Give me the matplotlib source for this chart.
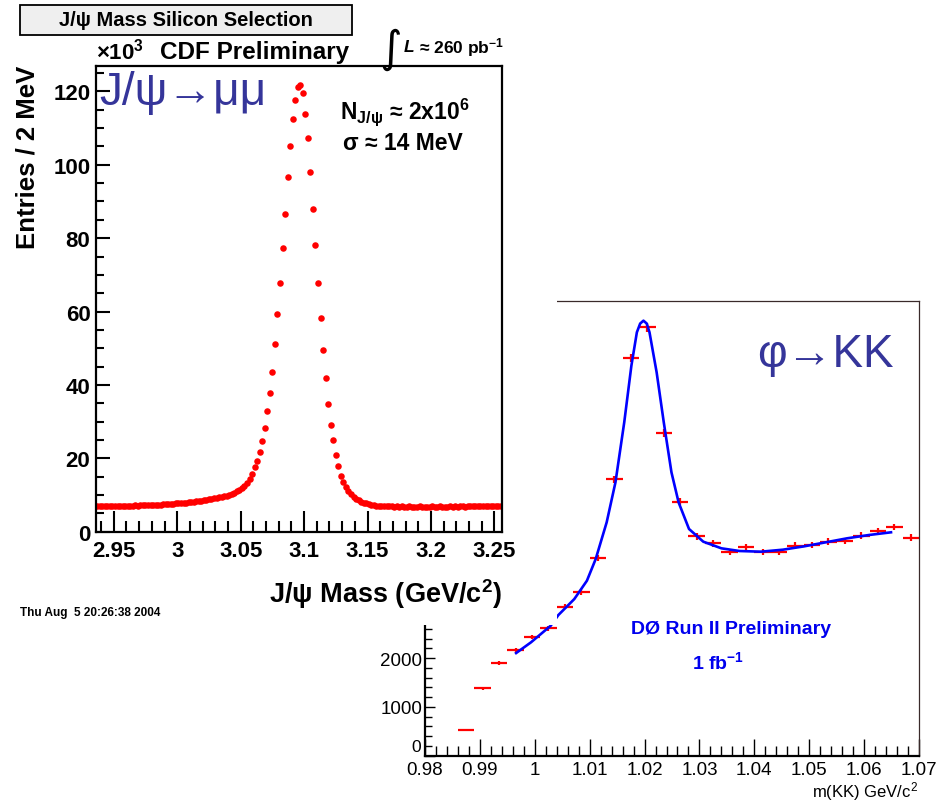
import matplotlib.pyplot as plt
import numpy as np
from matplotlib.patches import Rectangle
from matplotlib.ticker import MultipleLocator, FuncFormatter

plt.rcParams['font.family'] = ['Liberation Sans', 'DejaVu Sans']
plt.rcParams['mathtext.default'] = 'regular'

# J/psi -> mu mu (CDF), 2 MeV bins starting at 2.936 GeV, entries in thousands
jpsi_first_edge = 2.936
jpsi_bin_width = 0.002
jpsi_entries = [
    6.9, 6.95, 6.9, 7.0, 6.95, 7.0, 7.0, 6.95, 7.05, 7.0,
    7.05, 7.1, 7.05, 7.1, 7.1, 7.15, 7.1, 7.2, 7.2, 7.25,
    7.2, 7.3, 7.3, 7.35, 7.4, 7.4, 7.45, 7.5, 7.55, 7.6,
    7.65, 7.7, 7.75, 7.8, 7.9, 7.95, 8.0, 8.1, 8.15, 8.25,
    8.35, 8.45, 8.55, 8.65, 8.8, 8.9, 9.05, 9.2, 9.35, 9.45,
    9.6, 9.8, 10.0, 10.3, 10.6, 11.0, 11.4, 11.9, 12.5, 13.3,
    14.4, 15.8, 17.6, 19.4, 21.8, 24.7, 28.2, 32.9, 37.7, 43.4,
    51.1, 59.4, 67.9, 77.2, 86.7, 96.6, 105.2, 112.6, 117.6, 121.3,
    121.7, 119.6, 113.9, 107.2, 98.0, 87.9, 78.1, 67.7, 58.3, 49.4,
    41.8, 34.8, 29.2, 25.0, 20.9, 17.8, 15.3, 13.5, 12.2, 11.1,
    10.2, 9.5, 9.0, 8.55, 8.2, 7.9, 7.7, 7.5, 7.35, 7.2,
    7.1, 7.05, 7.0, 6.95, 6.95, 6.9, 6.9, 6.85, 6.9, 6.85,
    6.9, 6.85, 6.85, 6.9, 6.85, 6.8, 6.85, 6.9, 6.85, 6.85,
    6.8, 6.85, 6.9, 6.85, 6.85, 6.9, 6.85, 6.8, 6.85, 6.9,
    6.85, 6.9, 6.85, 6.9, 6.9, 6.85, 6.9, 6.95, 6.9, 6.9,
    6.95, 6.9, 6.95, 7.0, 6.95, 7.0, 6.95, 7.0, 7.05, 7.1,
]
jpsi_xticks = [2.95, 3.0, 3.05, 3.1, 3.15, 3.2, 3.25]

# phi -> KK (D0 Run II), 3 MeV bins starting at 0.986 GeV
d0_first_edge = 0.986
d0_bin_width = 0.003
d0_entries = [526, 1379, 1904, 2157, 2430, 2614, 3051, 3352, 4043, 5660,
              8145, 8773, 6615, 5202, 4493, 4350, 4165, 4268, 4165, 4178,
              4301, 4315, 4383, 4397, 4505, 4602, 4684, 4465]
d0_errors = [22, 37, 44, 46, 49, 51, 55, 58, 64, 75,
             90, 94, 81, 72, 67, 66, 65, 65, 65, 65,
             66, 66, 66, 66, 67, 68, 68, 67]

# fitted curve
fit_mass = [0.9966, 0.9993, 1.0029, 1.0043, 1.0072, 1.0095, 1.0111, 1.0131,
            1.0147, 1.0163, 1.0176, 1.0186, 1.0192, 1.0198, 1.0204, 1.0209,
            1.0222, 1.0235, 1.0249, 1.0262, 1.0281, 1.0307, 1.0340, 1.0373,
            1.0412, 1.0452, 1.0491, 1.0530, 1.0569, 1.0609, 1.0649]
fit_values = [2102, 2321, 2662, 2881, 3208, 3584, 4028, 4780,
              5599, 6828, 7987, 8671, 8850, 8909, 8850, 8671,
              7852, 6828, 5804, 5189, 4643, 4383, 4247, 4192,
              4178, 4219, 4288, 4370, 4452, 4520, 4575]

W, H = 942, 803
fig = plt.figure(figsize=(W / 100, H / 100), dpi=100)


def fx(px):
    return px / W


def fy(py):
    return 1 - py / H


narrow = ['DejaVu Sans Condensed', 'Liberation Sans Narrow', 'Liberation Sans']
slate = '#35359a'

# -------------------------------
# D0 phi -> KK panel (behind)
# -------------------------------
ax2 = fig.add_axes([fx(425), fy(756.7), 494 / W, (756.7 - 302) / H], zorder=0)
d0_centers = d0_first_edge + d0_bin_width * (np.arange(len(d0_entries)) + 0.5)
ax2.errorbar(d0_centers, d0_entries, xerr=d0_bin_width / 2, yerr=d0_errors,
             fmt='none', ecolor='red', elinewidth=1.6, capsize=0)
ax2.plot(fit_mass, fit_values, color='blue', lw=1.9)
ax2.set_xlim(0.98, 1.07)
ax2.set_ylim(0, 9312)
ax2.xaxis.set_major_locator(MultipleLocator(0.01))
ax2.xaxis.set_minor_locator(MultipleLocator(0.002))
ax2.yaxis.set_major_locator(MultipleLocator(1000))
ax2.yaxis.set_minor_locator(MultipleLocator(200))
ax2.xaxis.set_major_formatter(FuncFormatter(lambda v, p: '%g' % round(v, 3)))
# labels above 2000 sit under the CDF picture, "0" is placed by hand below
ax2.yaxis.set_major_formatter(FuncFormatter(lambda v, p: '%d' % v if 0 < v <= 2000 else ''))
ax2.tick_params(which='both', direction='in', top=False, right=False, width=1)
ax2.tick_params(axis='x', which='major', length=12, pad=3.5)
ax2.tick_params(axis='x', which='minor', length=7)
ax2.tick_params(axis='y', which='major', length=7, pad=2)
ax2.tick_params(axis='y', which='minor', length=5)
for lab in ax2.get_xticklabels() + ax2.get_yticklabels():
    lab.set_family(narrow)
    lab.set_fontsize(13.5)
for s in ['top', 'right']:
    ax2.spines[s].set_color('#3a2a2a')
    ax2.spines[s].set_linewidth(0.9)
for s in ['left', 'bottom']:
    ax2.spines[s].set_linewidth(1.6)
fig.text(fx(421), fy(748), '0', ha='right', va='center', family=narrow, fontsize=12.5)
fig.text(fx(918), fy(792), 'm(KK) GeV/c$^2$', ha='right', va='center',
         family=narrow, fontsize=12)
fig.text(fx(757), fy(355), 'φ→KK', ha='left', va='center', fontsize=33, color=slate)
fig.text(fx(731), fy(630), 'DØ Run II Preliminary', ha='center', va='center',
         family=narrow, fontsize=14, weight='bold', color='#0000ee')
fig.text(fx(718), fy(662), '1 fb$^{-1}$', ha='center', va='center',
         family=narrow, fontsize=14, weight='bold', color='#0000ee')

# white background of the CDF picture laid over the D0 one
fig.patches.append(Rectangle((0, fy(626)), fx(557), 1 - fy(626), transform=fig.transFigure,
                             facecolor='white', edgecolor='none', zorder=1))

# -------------------------------
# CDF J/psi -> mu mu panel (front)
# -------------------------------
ax1 = fig.add_axes([fx(96), fy(532.7), 406 / W, 466 / H], zorder=2)
jpsi_centers = jpsi_first_edge + jpsi_bin_width * (np.arange(len(jpsi_entries)) + 0.5)
ax1.plot(jpsi_centers, jpsi_entries, 'o', color='red', ms=4.7, mec='red', mew=0)
ax1.set_xlim(2.936, 3.256)
ax1.set_ylim(0, 127)
ax1.set_xticks(jpsi_xticks)
ax1.xaxis.set_minor_locator(MultipleLocator(0.01))
ax1.yaxis.set_major_locator(MultipleLocator(20))
ax1.yaxis.set_minor_locator(MultipleLocator(5))
ax1.xaxis.set_major_formatter(FuncFormatter(lambda v, p: '%g' % round(v, 3)))
ax1.tick_params(which='both', direction='in', top=False, right=False, width=1.5)
ax1.tick_params(axis='x', which='major', length=15, pad=6)
ax1.tick_params(axis='x', which='minor', length=8)
ax1.tick_params(axis='y', which='major', length=10, pad=4)
ax1.tick_params(axis='y', which='minor', length=6)
for lab in ax1.get_xticklabels() + ax1.get_yticklabels():
    lab.set_fontsize(16)
    lab.set_weight('bold')
for s in ax1.spines.values():
    s.set_linewidth(1.6)

fig.patches.append(Rectangle((fx(20), fy(36)), fx(332), 30.5 / H, transform=fig.transFigure,
                             facecolor='#efefef', edgecolor='black', lw=1.3, zorder=3))
fig.text(fx(186), fy(21), 'J/ψ Mass Silicon Selection', ha='center', va='center',
         fontsize=14.5, weight='bold', zorder=4)
fig.text(fx(96), fy(52), '×10$^3$', ha='left', va='center', fontsize=16, weight='bold')
fig.text(fx(160), fy(52), 'CDF Preliminary', ha='left', va='center', fontsize=17.5, weight='bold')
fig.text(fx(390), fy(50), r'$\int$', ha='center', va='center', fontsize=22)
fig.text(fx(404), fy(48), 'L', ha='left', va='center', fontsize=12.5, weight='bold', style='italic')
fig.text(fx(419), fy(48), '≈ 260 pb$^{-1}$', ha='left', va='center', fontsize=12.5, weight='bold')
fig.text(fx(28), fy(157), 'Entries / 2 MeV', rotation=90, ha='center', va='center',
         fontsize=18.5, weight='bold')
fig.text(fx(502), fy(594), 'J/ψ Mass (GeV/c$^2$)', ha='right', va='center',
         fontsize=19.5, weight='bold')
fig.text(fx(20), fy(613), 'Thu Aug  5 20:26:38 2004', ha='left', va='center',
         fontsize=8.5, weight='bold')
fig.text(fx(99), fy(93), 'J/ψ→μμ', ha='left', va='center', fontsize=33, color=slate)
fig.text(fx(340), fy(112), 'N$_{J/ψ}$ ≈ 2x10$^6$', ha='left', va='center',
         fontsize=16.5, weight='bold')
fig.text(fx(343), fy(143), 'σ ≈ 14 MeV', ha='left', va='center', fontsize=16.5, weight='bold')

fig.savefig('out.png', dpi=100)
